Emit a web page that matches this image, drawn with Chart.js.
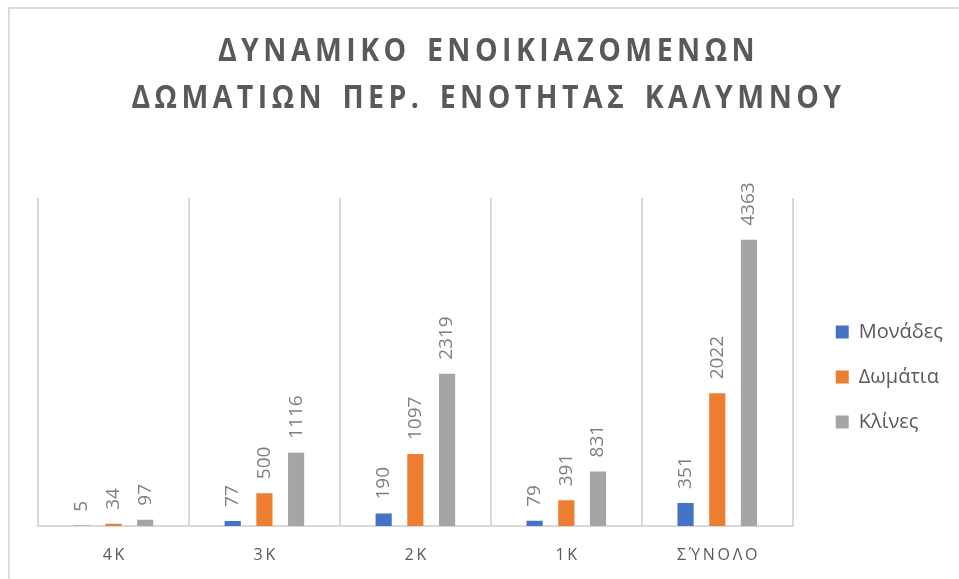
<!DOCTYPE html>
<html>
<head>
<meta charset="utf-8">
<title>Δυναμικό ενοικιαζόμενων δωματίων</title>
<style>
    body { margin: 0; background: #fff; }
    #wrap { position: relative; width: 959px; height: 579px; overflow: hidden; background: #fff; }
    #frame { position: absolute; left: 8px; top: 7px; width: 1000px; height: 700px;
             border-top: 2px solid #dcdcdc; border-left: 2px solid #dcdcdc; }
    #title { position: absolute; top: 25px; left: 9px; width: 959px; text-align: center;
             font-family: "Open Sans", sans-serif; font-weight: 700;
             font-size: 32px; line-height: 47px; letter-spacing: 5px; word-spacing: 5px;
             color: #595959; transform: scaleX(0.89); transform-origin: 50% 0; }
    #chart { position: absolute; left: 0; top: 0; }
</style>
</head>
<body>
<div id="wrap">
    <div id="frame"></div>
    <canvas id="chart" width="959" height="579"></canvas>
    <div id="title">ΔΥΝΑΜΙΚΟ ΕΝΟΙΚΙΑΖΟΜΕΝΩΝ<br>ΔΩΜΑΤΙΩΝ ΠΕΡ. ΕΝΟΤΗΤΑΣ ΚΑΛΥΜΝΟΥ</div>
</div>

<script src="https://cdn.jsdelivr.net/npm/chart.js"></script>
<script>
    // values
    const categories = ['4Κ', '3Κ', '2Κ', '1Κ', 'ΣΎΝΟΛΟ'];
    const units = [5, 77, 190, 79, 351];        // Μονάδες
    const rooms = [34, 500, 1097, 391, 2022];   // Δωμάτια
    const beds = [97, 1116, 2319, 831, 4363];   // Κλίνες

    // rotated value labels above each bar
    const barLabels = {
        id: 'barLabels',
        afterDatasetsDraw(chart) {
            const ctx = chart.ctx;
            ctx.save();
            ctx.font = '19px "Open Sans", sans-serif';
            ctx.fillStyle = '#7f7f7f';
            ctx.textAlign = 'left';
            ctx.textBaseline = 'middle';
            chart.data.datasets.forEach(function(ds, i) {
                chart.getDatasetMeta(i).data.forEach(function(bar, j) {
                    ctx.save();
                    ctx.translate(bar.x, bar.y - 14);
                    ctx.rotate(-Math.PI / 2);
                    ctx.fillText(String(ds.data[j]), 0, 0);
                    ctx.restore();
                });
            });
            ctx.restore();
        }
    };

    new Chart(document.getElementById('chart'), {
        type: 'bar',
        data: {
            labels: categories,
            datasets: [
                { label: 'Μονάδες', data: units, backgroundColor: '#4472c4' },
                { label: 'Δωμάτια', data: rooms, backgroundColor: '#ed7d31' },
                { label: 'Κλίνες', data: beds, backgroundColor: '#a5a5a5' }
            ]
        },
        options: {
            responsive: false,
            animation: false,
            categoryPercentage: 0.63,
            barPercentage: 0.51,
            layout: { padding: { left: 38, top: 198, right: 6, bottom: 0 } },
            plugins: {
                tooltip: { enabled: false },
                legend: {
                    position: 'right',
                    align: 'start',
                    // empty title used only to push the items down
                    title: { display: true, text: ' ', font: { size: 10 }, padding: { top: 87, bottom: 0 } },
                    labels: {
                        boxWidth: 13,
                        boxHeight: 13,
                        padding: 25,
                        color: '#595959',
                        font: { family: '"Open Sans", sans-serif', size: 20 }
                    }
                }
            },
            scales: {
                y: { display: false, min: 0, max: 5000 },
                // empty axis, only keeps a gap between the plot and the legend
                gap: {
                    type: 'linear',
                    position: 'right',
                    grid: { display: false },
                    border: { display: false },
                    ticks: { display: false },
                    afterFit: function(scale) { scale.width = 18; }
                },
                x: {
                    afterFit: function(scale) { scale.height = 53; },
                    grid: { color: '#d9d9d9', lineWidth: 2, offset: true, drawTicks: false },
                    border: { color: '#d9d9d9', width: 2 },
                    ticks: {
                        padding: 20,
                        color: '#595959',
                        font: { family: '"Open Sans", sans-serif', size: 16 },
                        callback: function(v, i) {
                            return categories[i].split('').join('\u2009');
                        }
                    }
                }
            }
        },
        plugins: [barLabels]
    });
</script>
</body>
</html>
